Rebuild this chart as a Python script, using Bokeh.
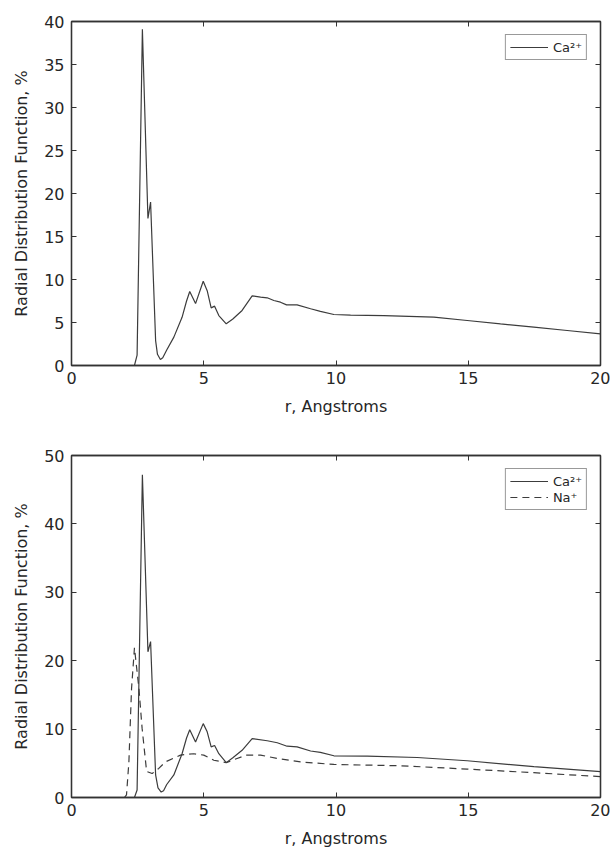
from bokeh.plotting import figure
from bokeh.models import Range1d, FixedTicker, LinearAxis, Legend, LegendItem
from bokeh.layouts import column
from bokeh.embed import file_html
from bokeh.resources import INLINE

# ---- data ----
r_ca_top = [2.30, 2.38, 2.48, 2.68, 2.89, 2.99, 3.18, 3.25, 3.36, 3.45, 3.6, 3.87, 4.18, 4.35, 4.47,
            4.69, 4.98, 5.13, 5.28, 5.41, 5.57, 5.85, 6.1, 6.45, 6.83, 7.15, 7.40, 7.65,
            7.9, 8.13, 8.53, 9.04, 9.41, 9.92, 10.55, 11.81, 13.7, 14.96, 16.22, 17.48,
            18.74, 20.0]
g_ca_top = [0.0, 0.0, 1.2, 39.1, 17.1, 19.0, 2.9, 1.3, 0.7, 0.9, 1.8, 3.3, 5.6, 7.5, 8.6,
            7.2, 9.8, 8.7, 6.7, 6.9, 5.8, 4.85, 5.4, 6.4, 8.1, 7.95, 7.87, 7.56,
            7.36, 7.05, 7.05, 6.6, 6.3, 5.93, 5.85, 5.81, 5.62, 5.23, 4.84, 4.46,
            4.07, 3.68]

r_ca_bot = [2.30, 2.38, 2.48, 2.68, 2.89, 2.99, 3.18, 3.27, 3.39, 3.48, 3.6, 3.87, 4.18, 4.35, 4.47,
            4.69, 4.98, 5.13, 5.28, 5.41, 5.57, 5.85, 6.1, 6.45, 6.83, 7.40, 7.78,
            8.15, 8.53, 9.04, 9.41, 9.92, 11.18, 13.07, 14.96, 17.48, 20.0]
g_ca_bot = [0.0, 0.0, 1.1, 47.2, 21.3, 22.8, 3.3, 1.4, 0.8, 1.0, 1.9, 3.3, 6.4, 8.7, 9.9,
            8.1, 10.8, 9.6, 7.4, 7.6, 6.4, 5.1, 5.8, 6.9, 8.6, 8.3, 8.0,
            7.5, 7.4, 6.8, 6.6, 6.1, 6.05, 5.85, 5.37, 4.5, 3.77]

r_na_bot = [2.0, 2.08, 2.17, 2.27, 2.38, 2.55, 2.67, 2.84, 3.05, 3.30, 3.55, 4.12,
            4.62, 5.0, 5.38, 5.85, 6.26, 6.6, 7.15, 7.78, 8.66, 9.92, 12.44, 14.96,
            17.48, 20.0]
g_na_bot = [0.0, 0.4, 5.2, 15.9, 21.9, 15.9, 10.1, 3.8, 3.5, 4.25, 5.2, 6.2,
            6.4, 6.2, 5.45, 5.1, 5.7, 6.2, 6.2, 5.7, 5.2, 4.83, 4.64, 4.15,
            3.63, 3.05]

x_ticks = [0, 5, 10, 15, 20]
y_ticks_top = [0, 5, 10, 15, 20, 25, 30, 35, 40]
y_ticks_bot = [0, 10, 20, 30, 40, 50]

FONT = "DejaVu Sans"
TXT = "#262626"
AX = "#333333"
LINE = "#3c3c3c"


def style_axis(ax, show_labels=True):
    ax.major_tick_in = 5
    ax.major_tick_out = 0
    ax.minor_tick_in = 0
    ax.minor_tick_out = 0
    ax.axis_line_color = AX
    ax.axis_line_width = 1.3
    ax.major_tick_line_color = AX
    ax.major_label_text_font = FONT
    ax.major_label_text_font_size = "16px"
    ax.major_label_text_color = TXT
    ax.axis_label_text_font = FONT
    ax.axis_label_text_font_size = "16px"
    ax.axis_label_text_color = TXT
    ax.axis_label_text_font_style = "normal"
    if not show_labels:
        ax.major_label_text_font_size = "0px"
        ax.major_label_text_color = None


def make_fig(ymax, yticks, height, top, bottom):
    p = figure(width=610, height=height, output_backend="svg", toolbar_location=None,
               x_range=Range1d(0, 20), y_range=Range1d(0, ymax),
               min_border_left=71, min_border_right=10,
               min_border_top=top, min_border_bottom=bottom,
               x_axis_label="r, Angstroms",
               y_axis_label="Radial Distribution Function, %")
    p.grid.visible = False
    p.outline_line_color = AX
    p.outline_line_width = 1.3
    p.xaxis.ticker = FixedTicker(ticks=x_ticks)
    p.yaxis.ticker = FixedTicker(ticks=yticks)
    for ax in p.xaxis + p.yaxis:
        style_axis(ax)
    p.xaxis.major_label_standoff = 6
    p.xaxis.axis_label_standoff = 10
    p.yaxis.major_label_standoff = 7
    p.yaxis.axis_label_standoff = 10
    top_ax = LinearAxis(ticker=FixedTicker(ticks=x_ticks))
    right_ax = LinearAxis(ticker=FixedTicker(ticks=yticks))
    style_axis(top_ax, False)
    style_axis(right_ax, False)
    p.add_layout(top_ax, "above")
    p.add_layout(right_ax, "right")
    return p


def style_legend(lg):
    lg.location = "top_right"
    lg.margin = 13
    lg.padding = 4
    lg.spacing = 0
    lg.glyph_width = 38
    lg.glyph_height = 16
    lg.label_height = 16
    lg.label_standoff = 5
    lg.label_text_font = FONT
    lg.label_text_font_size = "13px"
    lg.label_text_color = TXT
    lg.border_line_color = AX
    lg.border_line_width = 1
    lg.background_fill_alpha = 1.0


# ---- top figure ----
p1 = make_fig(40, y_ticks_top, 420, 21, 55)
l1 = p1.line(r_ca_top, g_ca_top, line_color=LINE, line_width=1.2)
lg1 = Legend(items=[LegendItem(label="Ca²⁺", renderers=[l1])])
style_legend(lg1)
p1.add_layout(lg1, "center")

# ---- bottom figure ----
p2 = make_fig(50, y_ticks_bot, 430, 35, 51)
l2 = p2.line(r_ca_bot, g_ca_bot, line_color=LINE, line_width=1.2)
l3 = p2.line(r_na_bot, g_na_bot, line_color=LINE, line_width=1.2, line_dash="7 5")
lg2 = Legend(items=[LegendItem(label="Ca²⁺", renderers=[l2]),
                    LegendItem(label="Na⁺", renderers=[l3])])
style_legend(lg2)
p2.add_layout(lg2, "center")

layout = column(p1, p2, spacing=0)
open("out.html", "w").write(file_html(layout, INLINE))
